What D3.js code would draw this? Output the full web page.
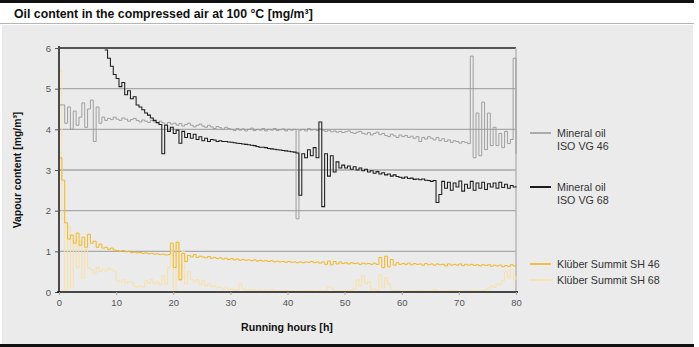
<!DOCTYPE html>
<html>
<head>
<meta charset="utf-8">
<script src="https://cdn.jsdelivr.net/npm/d3@7/dist/d3.min.js"></script>
<style>
  html, body { margin: 0; padding: 0; background: #fff; }
  svg { display: block; font-family: "Liberation Sans", Arial, sans-serif; }
</style>
</head>
<body>
<svg id="chart" width="699" height="347"></svg>
<script>
// Oil content in the compressed air, sampled every half hour (0 … 80 h)
const sampleStep = 0.5;

const yTicks = [0, 1, 2, 3, 4, 5, 6];
const xTicks = [0, 10, 20, 30, 40, 50, 60, 70, 80];

const seriesNames = ["Mineral oil ISO VG 46", "Mineral oil ISO VG 68", "Klüber Summit SH 46", "Klüber Summit SH 68"];

// Mineral oil ISO VG 46
const vg46 = [
  4.6, 4.6, 4.15, 4.55, 4.0, 4.45, 4.1, 4.3, 4.65, 4.05, 4.5, 4.72, 3.7, 4.55, 4.15, 4.3,
  4.22, 4.27, 4.24, 4.3, 4.25, 4.22, 4.28, 4.25, 4.2, 4.24, 4.27, 4.22, 4.18, 4.23, 4.2, 4.17,
  4.22, 4.18, 4.15, 4.2, 4.16, 4.12, 4.17, 4.13, 4.15, 4.1, 4.14, 4.08, 4.12, 4.15, 4.1, 4.06,
  4.1, 4.13, 4.08, 4.05, 4.1, 4.06, 4.02, 4.07, 4.04, 4.0, 4.05, 4.02,
  4.0, 3.97, 4.02, 3.98, 4.01, 3.96, 4.0, 4.03, 3.97, 4.0, 3.98, 4.02, 3.96, 4.0, 3.98, 4.02,
  3.97, 3.99, 4.01, 3.96, 4.0, 3.98, 4.0, 1.8, 3.98, 4.0, 3.96, 4.02, 3.98, 4.0, 3.97, 4.01,
  3.98, 3.95, 3.98, 3.94, 3.96, 3.93, 3.95, 3.92, 3.94, 3.96, 3.92, 3.9, 3.93, 3.95, 3.9, 3.88,
  3.92, 3.86, 3.9, 3.93, 3.87, 3.9, 3.85, 3.82, 3.88, 3.84, 3.8, 3.86, 3.82, 3.85, 3.8, 3.83,
  3.78, 3.82, 3.7, 3.8, 3.76, 3.82, 3.78, 3.74, 3.8, 3.72, 3.77, 3.7, 3.74, 3.68, 3.72, 3.7,
  3.66, 3.7, 3.68, 3.65, 5.8, 3.3, 4.4, 3.35, 4.67, 3.5, 4.4, 3.6, 4.05, 3.6, 3.9, 3.55,
  3.95, 3.65, 3.75, 5.75, 3.4
];

// Mineral oil ISO VG 68 (no readings before 8 h)
const vg68 = [
  null, null, null, null, null, null, null, null, null, null, null, null, null, null, null, null,
  5.95, 5.75, 5.55, 5.35, 5.25, 5.05, 5.15, 4.85, 4.95, 4.75, 4.8, 4.6, 4.55, 4.48, 4.4, 4.35,
  4.28, 4.22, 4.17, 4.12, 3.4, 4.1, 3.95, 4.05, 3.9, 3.98, 3.66, 3.95, 3.8, 3.9, 3.78, 3.88,
  3.75, 3.82, 3.72, 3.78, 3.7, 3.75, 3.74, 3.7, 3.72, 3.7, 3.7, 3.69,
  3.68, 3.67, 3.66, 3.65, 3.64, 3.63, 3.62, 3.61, 3.6, 3.58, 3.56, 3.56, 3.55, 3.53, 3.52, 3.51,
  3.5, 3.49, 3.48, 3.47, 3.46, 3.45, 3.44, 3.42, 2.38, 3.4, 3.3, 3.5, 3.35, 3.55, 3.3, 4.18,
  2.1, 3.4, 2.85, 3.35, 2.95, 3.2, 3.05, 3.12, 3.05, 3.1, 3.02, 3.08, 3.0, 3.05, 2.98, 3.02,
  2.95, 2.98, 2.92, 2.96, 2.9, 2.93, 2.88, 2.9, 2.85, 2.88, 2.84, 2.82, 2.8, 2.83, 2.79, 2.8,
  2.77, 2.78, 2.76, 2.78, 2.75, 2.74, 2.72, 2.74, 2.2, 2.4, 2.72, 2.55, 2.7, 2.5, 2.68, 2.58,
  2.73, 2.48, 2.65, 2.55, 2.72, 2.5, 2.68, 2.55, 2.7, 2.52, 2.66, 2.58, 2.68, 2.55, 2.7, 2.57,
  2.65, 2.55, 2.62, 2.58, 2.6
];

// Klüber Summit SH 46
const sh46 = [
  3.3, 2.75, 1.7, 1.3, 1.4, 1.2, 1.45, 1.15, 1.35, 1.1, 1.42, 1.2, 1.25, 1.1, 1.18, 1.08,
  1.1, 1.05, 1.08, 1.03, 1.02, 1.0, 1.02, 0.99, 1.0, 0.97, 0.98, 0.96, 0.97, 0.95, 0.96, 0.94,
  0.95, 0.93, 0.94, 0.92, 0.93, 0.91, 0.92, 1.2, 0.6, 1.22, 0.3, 0.95, 0.75, 0.9, 0.86, 0.92,
  0.85, 0.88, 0.86, 0.84, 0.87, 0.83, 0.85, 0.82, 0.84, 0.81, 0.83, 0.8,
  0.82, 0.79, 0.81, 0.78, 0.8, 0.78, 0.79, 0.77, 0.79, 0.76, 0.78, 0.76, 0.77, 0.75, 0.77, 0.74,
  0.76, 0.74, 0.75, 0.73, 0.75, 0.73, 0.74, 0.72, 0.74, 0.72, 0.74, 0.73, 0.75, 0.72, 0.74, 0.71,
  0.74, 0.68, 0.76, 0.67, 0.75, 0.69, 0.74, 0.7, 0.72, 0.69, 0.72, 0.7, 0.71, 0.68, 0.71, 0.69,
  0.7, 0.68, 0.71, 0.68, 0.85, 0.6, 0.88, 0.62, 0.8, 0.66, 0.72, 0.68, 0.7, 0.68, 0.71, 0.67,
  0.7, 0.68, 0.69, 0.66, 0.7, 0.67, 0.69, 0.66, 0.69, 0.67, 0.68, 0.64, 0.69, 0.66, 0.68, 0.66,
  0.69, 0.65, 0.68, 0.66, 0.68, 0.65, 0.67, 0.64, 0.67, 0.65, 0.67, 0.63, 0.66, 0.64, 0.66, 0.62,
  0.65, 0.63, 0.67, 0.64, 0.67
];

// Klüber Summit SH 68
const sh68 = [
  5.45, 1.8, 0.05, 1.6, 0.1, 1.3, 0.6, 1.25, 0.35, 1.05, 0.6, 0.55, 0.45, 0.6, 0.5, 0.55,
  0.52, 0.58, 0.55, 0.5, 0.28, 0.25, 0.3, 0.22, 0.26, 0.24, 0.14, 0.12, 0.15, 0.12, 0.28, 0.22,
  0.3, 0.2, 0.25, 0.18, 0.4, 0.2, 0.6, 1.0, 0.05, 1.25, 0.3, 1.0, 0.2, 0.5, 0.3, 0.25,
  0.3, 0.18, 0.28, 0.15, 0.2, 0.13, 0.15, 0.1, 0.12, 0.08, 0.1, 0.06,
  0.08, 0.05, 0.06, 0.2, 0.08, 0.05, 0.04, 0.06, 0.04, 0.03, 0.05, 0.03, 0.04, 0.02, 0.06, 0.03,
  0.02, 0.03, 0.02, 0.04, 0.02, 0.03, 0.02, 0.02, 0.03, 0.02, 0.04, 0.02, 0.03, 0.02, 0.02, 0.04,
  0.02, 0.03, 0.13, 0.1, 0.03, 0.02, 0.03, 0.02, 0.04, 0.05, 0.03, 0.08, 0.3, 0.15, 0.4, 0.2,
  0.25, 0.05, 0.08, 0.03, 0.42, 0.1, 0.35, 0.2, 0.05, 0.03, 0.02, 0.03, 0.02, 0.02, 0.03, 0.02,
  0.02, 0.03, 0.02, 0.02, 0.02, 0.03, 0.02, 0.06, 0.03, 0.02, 0.02, 0.03, 0.02, 0.02, 0.03, 0.02,
  0.02, 0.03, 0.02, 0.02, 0.03, 0.05, 0.03, 0.02, 0.03, 0.06, 0.1, 0.15, 0.12, 0.2, 0.18, 0.28,
  0.5, 0.35, 0.55, 0.3, 0.4
];

const seriesColors = ["#9b9b9b", "#1c1c1c", "#f4b41a", "#fbe0a0"];
const seriesData = [vg46, vg68, sh46, sh68];

const svg = d3.select("#chart");

// page frame: top rule, title, separator, grey panel, bottom rule
svg.append("rect").attr("x", 2).attr("y", 25).attr("width", 691).attr("height", 319).attr("fill", "#ebebeb");
svg.append("rect").attr("x", 0).attr("y", 0).attr("width", 694).attr("height", 3).attr("fill", "#111");
svg.append("rect").attr("x", 0).attr("y", 344).attr("width", 694).attr("height", 3).attr("fill", "#111");
svg.append("line").attr("x1", 0).attr("x2", 694).attr("y1", 23.5).attr("y2", 23.5)
  .attr("stroke", "#b5b5b5").attr("stroke-width", 1);
svg.append("text").attr("x", 14).attr("y", 17.5)
  .attr("font-size", 12.3).attr("font-weight", "bold").attr("fill", "#111")
  .text("Oil content in the compressed air at 100 °C [mg/m³]");

const x = d3.scaleLinear().domain([0, 80]).range([59, 516]);
const y = d3.scaleLinear().domain([0, 6]).range([292, 48]);

// horizontal grid
svg.append("g").selectAll("line").data(yTicks.filter(t => t > 0 && t < 6)).join("line")
  .attr("x1", x(0)).attr("x2", x(80))
  .attr("y1", d => y(d)).attr("y2", d => y(d))
  .attr("stroke", "#a9a9a9").attr("stroke-width", 1.4);

// top and right borders of the plot
svg.append("line").attr("x1", x(0)).attr("x2", x(80)).attr("y1", y(6)).attr("y2", y(6))
  .attr("stroke", "#222").attr("stroke-width", 1.3);
svg.append("line").attr("x1", x(80)).attr("x2", x(80)).attr("y1", y(6)).attr("y2", y(0))
  .attr("stroke", "#b8b8b8").attr("stroke-width", 1.5);

// series, drawn back to front
svg.append("clipPath").attr("id", "plotClip")
  .append("rect").attr("x", x(0)).attr("y", y(6) - 1).attr("width", x(80) - x(0) + 1).attr("height", y(0) - y(6) + 1);

const line = d3.line()
  .defined(d => d[1] !== null)
  .x(d => x(d[0])).y(d => y(d[1]))
  .curve(d3.curveStepAfter);

const drawOrder = [3, 2, 0, 1];
const plot = svg.append("g").attr("clip-path", "url(#plotClip)");
drawOrder.forEach(k => {
  const pts = seriesData[k].map((v, i) => [i * sampleStep, v]);
  plot.append("path").datum(pts)
    .attr("d", line)
    .attr("fill", "none")
    .attr("stroke", seriesColors[k])
    .attr("stroke-width", k === 1 ? 1.05 : 0.95)
    .attr("stroke-linejoin", "miter");
});

// y axis
const yAxis = svg.append("g").attr("transform", `translate(${x(0)},0)`)
  .call(d3.axisLeft(y).tickValues(yTicks).tickSize(4).tickFormat(d3.format("d")));
yAxis.select(".domain").attr("stroke", "#4a4a4a").attr("stroke-width", 2)
  .attr("d", `M0,${y(6) - 2}V${y(0)}`);
yAxis.selectAll(".tick line").attr("stroke", "#555").attr("stroke-width", 1);
yAxis.selectAll(".tick text").attr("fill", "#555").attr("font-size", 9.5)
  .attr("font-family", "'Liberation Sans', Arial, sans-serif").attr("x", -8);

// x axis
const xAxis = svg.append("g").attr("transform", `translate(0,${y(0)})`)
  .call(d3.axisBottom(x).tickValues(xTicks).tickSize(3).tickFormat(d3.format("d")));
xAxis.select(".domain").attr("stroke", "#111").attr("stroke-width", 1.5)
  .attr("d", `M${x(0) - 2},0H${x(80) + 2}`);
xAxis.selectAll(".tick line").attr("stroke", "#aaa");
xAxis.selectAll(".tick text").attr("fill", "#555").attr("font-size", 9.5)
  .attr("font-family", "'Liberation Sans', Arial, sans-serif").attr("y", 7);

// axis titles
svg.append("text").attr("x", 287).attr("y", 331).attr("text-anchor", "middle")
  .attr("font-size", 10.6).attr("font-weight", "bold").attr("fill", "#111")
  .text("Running hours [h]");
svg.append("text").attr("transform", "translate(21,170) rotate(-90)").attr("text-anchor", "middle")
  .attr("font-size", 10.4).attr("font-weight", "bold").attr("fill", "#111")
  .text("Vapour content [mg/m³]");

// legend
const legendItems = [
  { k: 0, lines: ["Mineral oil", "ISO VG 46"], y: 133 },
  { k: 1, lines: ["Mineral oil", "ISO VG 68"], y: 187 },
  { k: 2, lines: ["Klüber Summit SH 46"], y: 264 },
  { k: 3, lines: ["Klüber Summit SH 68"], y: 280 }
];
const legend = svg.append("g");
legendItems.forEach(item => {
  legend.append("line").attr("x1", 530).attr("x2", 551)
    .attr("y1", item.y).attr("y2", item.y)
    .attr("stroke", seriesColors[item.k]).attr("stroke-width", item.k === 1 ? 2 : 1.6);
  item.lines.forEach((t, j) => {
    legend.append("text").attr("x", 557).attr("y", item.y + 3.5 + j * 13.5)
      .attr("font-size", 10.7).attr("fill", "#333").text(t);
  });
});
</script>
</body>
</html>
